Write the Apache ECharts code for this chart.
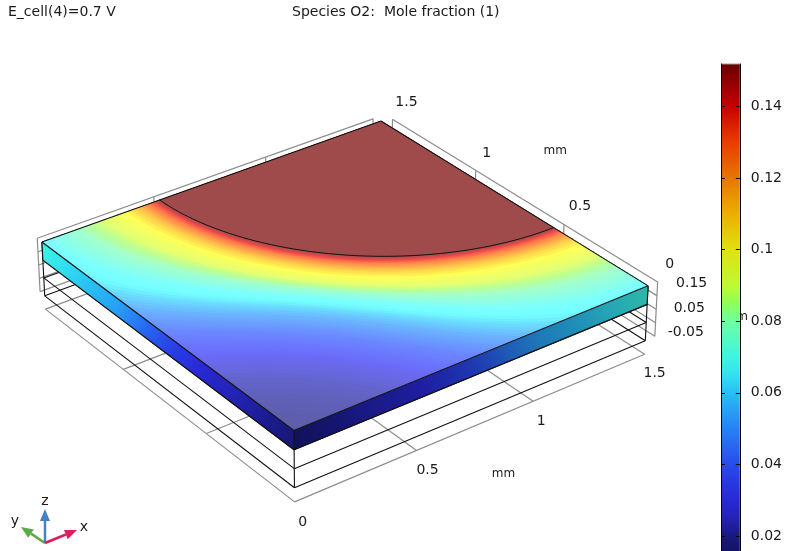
<!DOCTYPE html>
<html>
<head>
<meta charset="utf-8">
<script src="https://cdn.jsdelivr.net/npm/echarts@6/dist/echarts.min.js"></script>
<style>html,body{margin:0;padding:0;background:#fff}#c{width:785px;height:551px}</style>
</head>
<body>
<div id="c"></div>
<script>
// ---- data ----
const xTicks = [0, 0.5, 1, 1.5];
const yTicks = [0, 0.5, 1, 1.5];
const zTicks = [-0.05, 0, 0.05, 0.1, 0.15];
const zLabelTicks = [0.15, 0.05, -0.05];
const slabLevels = [0.2, 0.133, 0.067, 0];
const colorbarTicks = [0.02, 0.04, 0.06, 0.08, 0.1, 0.12, 0.14];
const colorbarMin = 0.0158;
const colorbarMax = 0.1519;
const plateauValue = 0.152;
// O2 mole fraction contours: distance (mm) from the far corner, along the diagonal and towards the edges
const contourValues = [.148,.144,.14,.136,.132,.128,.124,.12,.116,.112,.108,.104,.1,.098,.096,.094,.092,.09,.088,.086,.084,.082,.08,.078,.076,.074,.072,.07,.068,.066,.064,.062,.06,.058,.056,.054,.052,
  .05,.049,.048,.047,.046,.045,.044,.043,.042,.041,.04,.039,.038,.037,.036,.035,.034,.033,.032,.031,.03,.029,.028,.027,.026,.025,.024,.023,.0225,.022,.0215,.021,.0205,.02,.0195,.019,.0185,.018];
const contourDiagonal = [1.012,1.022,1.03,1.038,1.046,1.056,1.068,1.08,1.092,1.104,1.12,1.135,1.15,1.158,1.168,1.178,1.19,1.2,1.21,1.22,1.23,1.24,1.25,1.262,1.274,1.286,1.298,1.31,1.32,1.33,1.345,1.358,1.37,1.382,1.394,1.408,1.424,
  1.44,1.45,1.46,1.47,1.48,1.491,1.503,1.515,1.527,1.538,1.55,1.562,1.574,1.586,1.598,1.611,1.624,1.638,1.652,1.666,1.68,1.70,1.72,1.74,1.76,1.785,1.81,1.845,1.862,1.88,1.91,1.94,1.97,2.0,2.032,2.065,2.097,2.13];
const contourEdge = [1.01,1.018,1.025,1.035,1.044,1.056,1.068,1.08,1.093,1.107,1.125,1.142,1.16,1.175,1.192,1.21,1.23,1.25,1.27,1.29,1.312,1.336,1.36,1.39,1.415,1.445,1.472,1.5,1.525,1.55,1.575,1.6,1.62,1.645,1.67,1.695,1.72,
  1.74,1.755,1.77,1.785,1.8,1.82,1.84,1.86,1.88,1.9,1.92,1.94,1.96,1.985,2.01,2.035,2.06,2.095,2.13,2.165,2.2,2.24,2.28,2.32,2.36,2.41,2.46,2.53,2.565,2.6,2.65,2.7,2.75,2.8,2.85,2.9,2.95,3.0];
const faceStations = [0,.1,.2,.3,.4,.5,.6,.7,.8,.9,1,1.1,1.2,1.3,1.4,1.5];
const faceValues = [.019,.021,.023,.025,.027,.03,.034,.039,.044,.05,.055,.058,.061,.064,.067,.07];
// colour scale
const scaleValues = [.016,.02,.025,.03,.04,.05,.06,.065,.07,.08,.085,.09,.1,.11,.12,.13,.14,.152];
const scaleColors = [[20,20,100],[25,25,130],[35,35,180],[40,40,215],[40,75,235],[40,130,245],[40,190,245],[50,225,240],[60,245,225],[110,255,160],[140,255,90],[190,250,50],[225,225,15],[235,175,0],[230,120,0],[235,60,0],[200,0,0],[105,0,0]];

// ---- camera calibration: world mm -> screen ----
const calib = [
 [0,0,.2,294,430],[1.5,0,.2,648,286],[0,1.5,.2,42,242],[1.5,1.5,.2,381,121],
 [0,0,0,294,488],[1.5,0,0,646,341],[0,1.5,0,44,297],
 [0,0,-.05,295,502],[1.5,0,-.05,644,354],[0,1.5,-.05,46,308]];
function solveCamera(){
  const n=11, A=Array.from({length:n},()=>new Array(n+1).fill(0));
  const add=(r,b)=>{for(let i=0;i<n;i++){for(let j=0;j<n;j++)A[i][j]+=r[i]*r[j];A[i][n]+=r[i]*b;}};
  calib.forEach(([x,y,z,u,v])=>{
    add([x,y,z,1,0,0,0,0,-u*x,-u*y,-u*z],u);
    add([0,0,0,0,x,y,z,1,-v*x,-v*y,-v*z],v);
  });
  for(let c=0;c<n;c++){
    let p=c;for(let r=c+1;r<n;r++)if(Math.abs(A[r][c])>Math.abs(A[p][c]))p=r;
    [A[c],A[p]]=[A[p],A[c]];
    for(let r=0;r<n;r++){if(r===c)continue;const f=A[r][c]/A[c][c];for(let k=c;k<=n;k++)A[r][k]-=f*A[c][k];}
  }
  return A.map((row,i)=>row[n]/row[i]);
}
const P = solveCamera();
function project(x,y,z){
  const w=P[8]*x+P[9]*y+P[10]*z+1;
  return [(P[0]*x+P[1]*y+P[2]*z+P[3])/w,(P[4]*x+P[5]*y+P[6]*z+P[7])/w];
}

// ---- colours ----
function baseColor(v){
  if(v<=scaleValues[0])return scaleColors[0];
  for(let i=1;i<scaleValues.length;i++){
    if(v<=scaleValues[i]){
      const t=(v-scaleValues[i-1])/(scaleValues[i]-scaleValues[i-1]);
      return scaleColors[i].map((c,k)=>scaleColors[i-1][k]+(c-scaleColors[i-1][k])*t);
    }
  }
  return scaleColors[scaleColors.length-1];
}
const css=c=>'rgb('+c.map(a=>Math.max(0,Math.min(255,Math.round(a)))).join(',')+')';
const topShade=v=>css(baseColor(v).map(c=>c*0.8+75));
const faceShade=(v,k)=>css(baseColor(v).map(c=>c*k));

// ---- box geometry in mm ----
const wallAY=1.614, wallAShift=0.05;
const wallBX=1.607, wallBShift=0.068;
const zLow=-0.05, zHigh=0.15, E=1.5, zTop=slabLevels[0], zBase=slabLevels[3];

const graySegs=[];
zTicks.forEach(z=>{
  graySegs.push([xTicks[0]+wallAShift,wallAY,z,xTicks[3]+wallAShift,wallAY,z]);
  graySegs.push([wallBX,yTicks[0]+wallBShift,z,wallBX,yTicks[3]+wallBShift,z]);
});
xTicks.forEach(x=>graySegs.push([x+wallAShift,wallAY,zLow,x+wallAShift,wallAY,zHigh]));
yTicks.forEach(y=>graySegs.push([wallBX,y+wallBShift,zLow,wallBX,y+wallBShift,zHigh]));
xTicks.forEach(x=>graySegs.push([x,0,zLow,x,E,zLow]));
yTicks.forEach(y=>graySegs.push([0,y,zLow,E,y,zLow]));

const blackSegs=[];
slabLevels.slice(1).forEach(z=>{
  blackSegs.push([0,0,z,E,0,z],[0,0,z,0,E,z],[E,0,z,E,E,z],[0,E,z,E,E,z]);
});
[[0,0],[E,0],[0,E]].forEach(([x,y])=>blackSegs.push([x,y,zBase,x,y,zTop]));

const topSegs=[[0,0,zTop,E,0,zTop],[0,0,zTop,0,E,zTop],[E,0,zTop,E,E,zTop],[0,E,zTop,E,E,zTop],
  [0,0,slabLevels[1],E,0,slabLevels[1]],[0,0,slabLevels[1],0,E,slabLevels[1]],
  [0,0,zTop,0,0,slabLevels[1]],[E,0,zTop,E,0,slabLevels[1]],[0,E,zTop,0,E,slabLevels[1]]];

const labelStyle={fontFamily:'DejaVu Sans',fontSize:14,fill:'#1a1a1a',align:'center',verticalAlign:'middle'};
const ya=wallBShift;
const tickLabels=[
  ['0',0,0,zLow,8,20],['0.5',.5,0,zLow,11,20],['1',1,0,zLow,8,20],['1.5',1.5,0,zLow,10,19],
  ['0',wallBX,yTicks[0]+ya,zHigh,12,-18],['0.5',wallBX,yTicks[1]+ya,zHigh,16,-18],['1',wallBX,yTicks[2]+ya,zHigh,11,-17],['1.5',wallBX,yTicks[3]+ya,zHigh,14,-17],
  [String(zLabelTicks[0]),wallBX,ya,zLabelTicks[0],34,1],[String(zLabelTicks[1]),wallBX,ya,zLabelTicks[1],33,-1],[String(zLabelTicks[2]),wallBX,ya,zLabelTicks[2],31,-4]
];
const unitLabels=[['mm',.75,0,zLow,28,48],['mm',wallBX,.75+ya,zHigh,36,-46],['mm',wallBX,ya,.05,80,8]];

// triad: origin and arrow tips on screen
const triadOrigin=[45,543];
const triad=[
  {name:'y',tip:[21,527],color:'#5AAA46',at:[15,521]},
  {name:'z',tip:[45,509],color:'#4682BE',at:[45,501]},
  {name:'x',tip:[77,530],color:'#DC1E5A',at:[84,527]}];

// ---- helpers ----
const world=(api,x,y,z)=>api.coord(project(x,y,z));
function clipHalf(poly,test,cross){
  const out=[];
  for(let i=0;i<poly.length;i++){
    const a=poly[i],b=poly[(i+1)%poly.length];
    const ia=test(a),ib=test(b);
    if(ia)out.push(a);
    if(ia!==ib)out.push(cross(a,b));
  }
  return out;
}
function contourPolygon(rDiag,rEdge){
  let pts=[[E,E]];
  for(let i=0;i<=120;i++){
    const a=Math.PI/2*i/120,t=Math.PI+a,s=Math.sin(2*a),r=rEdge+(rDiag-rEdge)*s*s;
    pts.push([E+r*Math.cos(t),E+r*Math.sin(t)]);
  }
  pts=clipHalf(pts,p=>p[0]>=0,(a,b)=>{const t=a[0]/(a[0]-b[0]);return [0,a[1]+(b[1]-a[1])*t];});
  pts=clipHalf(pts,p=>p[1]>=0,(a,b)=>{const t=a[1]/(a[1]-b[1]);return [a[0]+(b[0]-a[0])*t,0];});
  return pts;
}
function segSeries(segs,color,width,z){
  return {type:'custom',coordinateSystem:'cartesian2d',xAxisIndex:0,yAxisIndex:0,silent:true,clip:false,z:z,animation:false,
    data:segs,
    renderItem:(p,api)=>{
      const s=segs[p.dataIndex],a=world(api,s[0],s[1],s[2]),b=world(api,s[3],s[4],s[5]);
      return {type:'line',shape:{x1:a[0],y1:a[1],x2:b[0],y2:b[1]},style:{stroke:color,lineWidth:width}};
    }};
}
function labelSeries(items,z,fontSize){
  return {type:'custom',coordinateSystem:'cartesian2d',xAxisIndex:0,yAxisIndex:0,silent:true,clip:false,z:z,animation:false,
    data:items.map((_,i)=>[i]),
    renderItem:(p,api)=>{
      const it=items[p.dataIndex],a=world(api,it[1],it[2],it[3]);
      return {type:'text',style:Object.assign({},labelStyle,{text:it[0],x:a[0]+it[4],y:a[1]+it[5],fontSize:fontSize})};
    }};
}
function faceItem(api,fn,k){
  const corners=[fn(0,slabLevels[1]),fn(E,slabLevels[1]),fn(E,zTop),fn(0,zTop)].map(q=>world(api,q[0],q[1],q[2]));
  const a=world(api,...fn(0,zTop)),b=world(api,...fn(E,zTop));
  const stops=faceStations.map((s,i)=>{
    const q=world(api,...fn(s,zTop));
    return {offset:Math.min(1,Math.max(0,(q[0]-a[0])/(b[0]-a[0]))),color:faceShade(faceValues[i],k)};
  });
  return {type:'polygon',shape:{points:corners},
    style:{fill:new echarts.graphic.LinearGradient(a[0],a[1],b[0],b[1],stops,true)}};
}

const contourOrder=contourValues.map((v,i)=>i).reverse();
const titleStyle={fontFamily:'DejaVu Sans',fontSize:14,fontWeight:'normal',color:'#1a1a1a'};
const chart=echarts.init(document.getElementById('c'),null,{renderer:'canvas'});
chart.setOption({
  animation:false,
  backgroundColor:'#fff',
  title:[
    {text:'E_cell(4)=0.7 V',left:8,top:5,padding:0,textStyle:titleStyle},
    {text:'Species O2:  Mole fraction (1)',left:292,top:5,padding:0,textStyle:titleStyle}
  ],
  grid:[
    {left:0,top:0,width:785,height:551,show:false},
    {left:721,top:64,width:21,height:487,show:false}
  ],
  xAxis:[
    {type:'value',gridIndex:0,min:0,max:785,show:false},
    {type:'value',gridIndex:1,min:0,max:1,show:false}
  ],
  yAxis:[
    {type:'value',gridIndex:0,min:0,max:551,inverse:true,show:false},
    {type:'value',gridIndex:1,min:colorbarMin,max:colorbarMax,position:'right',z:10,
     axisLine:{show:true,onZero:false,lineStyle:{color:'#000',width:1}},
     axisTick:{show:true,inside:true,length:4,customValues:colorbarTicks,lineStyle:{color:'#000'}},
     splitLine:{show:false},
     axisLabel:{show:true,customValues:colorbarTicks,margin:11,fontFamily:'DejaVu Sans',fontSize:14,color:'#1a1a1a',formatter:v=>String(+v.toFixed(2))}},
    {type:'value',gridIndex:1,min:colorbarMin,max:colorbarMax,position:'left',z:10,
     axisLine:{show:true,onZero:false,lineStyle:{color:'#000',width:1}},
     axisTick:{show:true,inside:true,length:4,customValues:colorbarTicks,lineStyle:{color:'#000'}},
     splitLine:{show:false},axisLabel:{show:false}}
  ],
  series:[
    segSeries(graySegs,'#8c8c8c',1.2,2),
    segSeries(blackSegs,'#111',1.1,3),
    labelSeries(unitLabels,4,12),
    labelSeries(tickLabels,4,14),
    // side faces
    {type:'custom',coordinateSystem:'cartesian2d',xAxisIndex:0,yAxisIndex:0,silent:true,clip:false,z:5,animation:false,
     data:[[0],[1]],
     renderItem:(p,api)=> p.dataIndex===0
       ? faceItem(api,(s,z)=>[0,s,z],1)
       : faceItem(api,(s,z)=>[s,0,z],0.75)},
    // top surface: contour regions from the outside in
    {type:'custom',coordinateSystem:'cartesian2d',xAxisIndex:0,yAxisIndex:0,silent:true,clip:false,z:6,animation:false,
     data:contourOrder.map(i=>[contourDiagonal[i],contourEdge[i],contourValues[i]]),
     renderItem:(p,api)=>{
       const pts=contourPolygon(api.value(0),api.value(1)).map(q=>world(api,q[0],q[1],zTop));
       return {type:'polygon',shape:{points:pts},style:{fill:topShade(api.value(2))}};
     }},
    // quarter disc and its black rim
    {type:'custom',coordinateSystem:'cartesian2d',xAxisIndex:0,yAxisIndex:0,silent:true,clip:false,z:7,animation:false,
     data:[[1,plateauValue]],
     renderItem:(p,api)=>{
       const pts=contourPolygon(api.value(0),api.value(0)).map(q=>world(api,q[0],q[1],zTop));
       return {type:'group',children:[
         {type:'polygon',shape:{points:pts},style:{fill:topShade(api.value(1))}},
         {type:'polyline',shape:{points:pts.slice(1)},style:{fill:null,stroke:'#111',lineWidth:1}}
       ]};
     }},
    segSeries(topSegs,'#111',1.1,8),
    // triad
    {type:'custom',coordinateSystem:'cartesian2d',xAxisIndex:0,yAxisIndex:0,silent:true,clip:false,z:9,animation:false,
     data:triad.map((_,i)=>[i]),
     renderItem:(p,api)=>{
       const t=triad[p.dataIndex],o=api.coord(triadOrigin),e=api.coord(t.tip);
       const dx=e[0]-o[0],dy=e[1]-o[1],L=Math.hypot(dx,dy),ux=dx/L,uy=dy/L,h=12,w=5;
       const bx=e[0]-ux*h,by=e[1]-uy*h;
       const lab=api.coord(t.at);
       return {type:'group',children:[
         {type:'line',shape:{x1:o[0],y1:o[1],x2:bx,y2:by},style:{stroke:t.color,lineWidth:2.5}},
         {type:'polygon',shape:{points:[e,[bx-uy*w,by+ux*w],[bx+uy*w,by-ux*w]]},style:{fill:t.color}},
         {type:'text',style:Object.assign({},labelStyle,{text:t.name,x:lab[0],y:lab[1]})}
       ]};
     }},
    // colour bar
    {type:'custom',coordinateSystem:'cartesian2d',xAxisIndex:1,yAxisIndex:1,silent:true,clip:false,z:9,animation:false,
     data:[[colorbarMin,colorbarMax]],
     renderItem:(p,api)=>{
       const a=api.coord([0,api.value(1)]),b=api.coord([1,api.value(0)]);
       const stops=scaleValues.map((v,i)=>({offset:Math.max(0,Math.min(1,(v-colorbarMin)/(colorbarMax-colorbarMin))),color:css(scaleColors[i])}));
       return {type:'group',children:[
         {type:'rect',shape:{x:a[0],y:a[1],width:b[0]-a[0],height:b[1]-a[1]},
          style:{fill:new echarts.graphic.LinearGradient(0,1,0,0,stops)}},
         {type:'line',shape:{x1:a[0],y1:a[1],x2:b[0],y2:a[1]},style:{stroke:'#999',lineWidth:1}}
       ]};
     }}
  ]
});
</script>
</body>
</html>
